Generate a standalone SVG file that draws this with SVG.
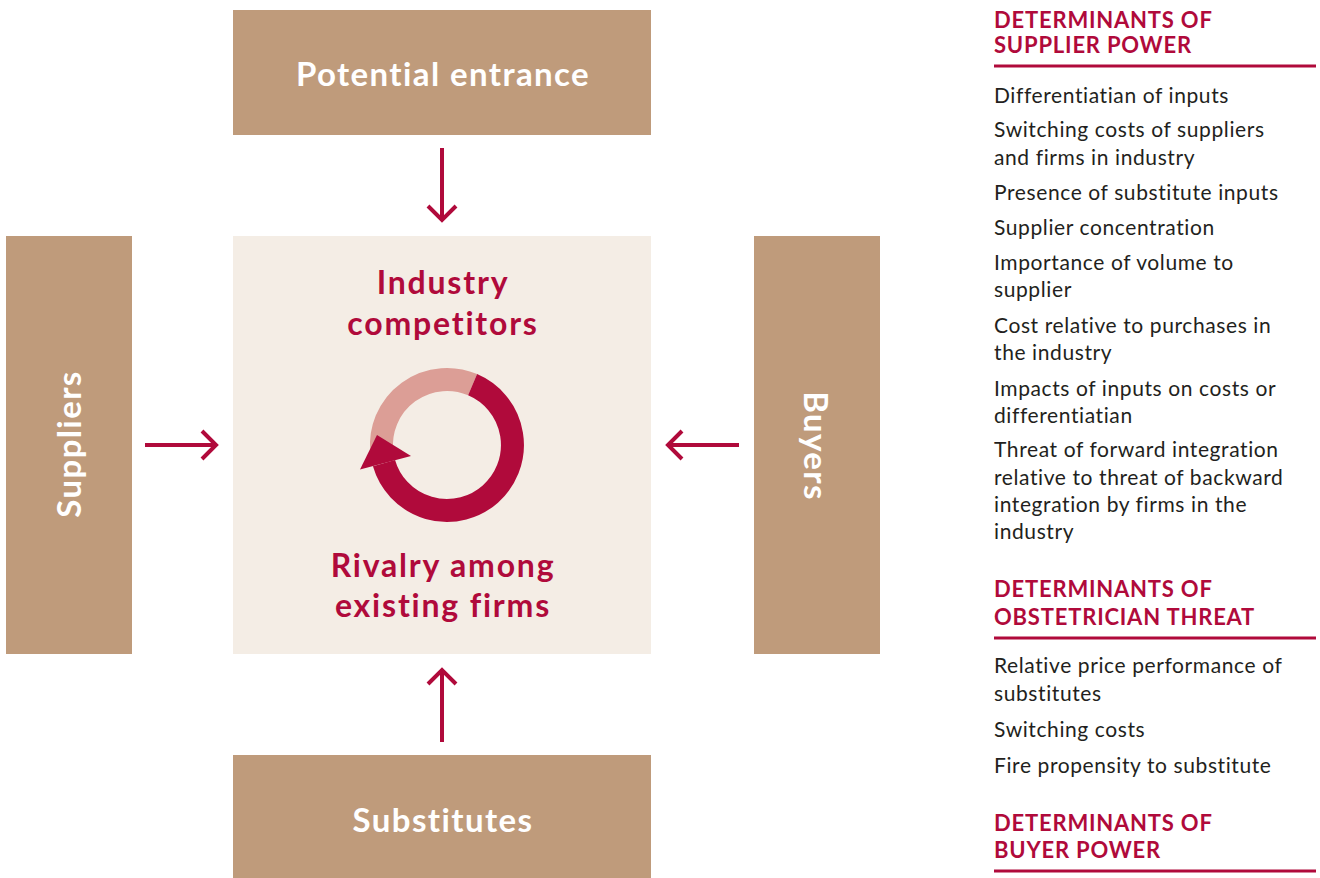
<svg xmlns="http://www.w3.org/2000/svg" width="1320" height="878" viewBox="0 0 1320 878">
<defs>
<style>
.box{fill:#BF9B7B}
.core{fill:#F4EDE5}
.wl{font-family:Lato,"Noto Sans","Liberation Sans",sans-serif;font-weight:700;fill:#FFFFFF;font-size:33px;letter-spacing:1.4px;text-anchor:middle}
.rl{font-family:Lato,"Noto Sans","Liberation Sans",sans-serif;font-weight:700;fill:#B00A3B;font-size:32px;letter-spacing:1.8px;text-anchor:middle}
.conn{stroke:#B00A3B;stroke-width:4;fill:none}
.hd{font-family:Lato,"Noto Sans","Liberation Sans",sans-serif;font-weight:700;fill:#B00A3B;font-size:22px;letter-spacing:0.8px}
.tx{font-family:Lato,"Noto Sans","Liberation Sans",sans-serif;font-weight:400;fill:#231F20;font-size:21px;letter-spacing:0.6px}
.rule{stroke:#B00A3B;stroke-width:3}
</style>
<marker id="chev" markerUnits="userSpaceOnUse" viewBox="-16 -16 32 32" markerWidth="32" markerHeight="32" refX="0" refY="0" orient="auto">
<path d="M-14,-14 L0,0 L-14,14" fill="none" stroke="#B00A3B" stroke-width="4"/>
</marker>
</defs>
<rect width="1320" height="878" fill="#FFFFFF"/>

<g id="potential-entrance">
<rect class="box" x="233" y="10" width="418" height="125"/>
<text class="wl" x="443" y="86">Potential entrance</text>
</g>

<g id="industry-competitors">
<rect class="core" x="233" y="236" width="418" height="418"/>
<text class="rl" x="443" y="294">Industry</text>
<text class="rl" x="443" y="335">competitors</text>
<path d="M381.7,450.7 A65.5,65.5 0 0 1 472.6,384.7" fill="none" stroke="#DC9E96" stroke-width="23"/>
<path d="M472.6,384.7 A65.5,65.5 0 1 1 384.0,463.1" fill="none" stroke="#B00A3B" stroke-width="23"/>
<polygon points="377,435 411,456 360,469.5" fill="#B00A3B"/>
<text class="rl" x="443" y="577">Rivalry among</text>
<text class="rl" x="443" y="617">existing firms</text>
</g>

<g id="suppliers">
<rect class="box" x="6" y="236" width="126" height="418"/>
<text class="wl" transform="translate(81,445) rotate(-90)" x="1" y="0">Suppliers</text>
</g>

<g id="buyers">
<rect class="box" x="754" y="236" width="126" height="418"/>
<text class="wl" transform="translate(804,445) rotate(90)" x="1" y="0">Buyers</text>
</g>

<g id="substitutes">
<rect class="box" x="233" y="755" width="418" height="123"/>
<text class="wl" x="443" y="832">Substitutes</text>
</g>

<g id="connectors">
<line class="conn" x1="442" y1="148" x2="442" y2="220" marker-end="url(#chev)"/>
<line class="conn" x1="442" y1="742" x2="442" y2="670" marker-end="url(#chev)"/>
<line class="conn" x1="145" y1="445" x2="216" y2="445" marker-end="url(#chev)"/>
<line class="conn" x1="739" y1="445" x2="668" y2="445" marker-end="url(#chev)"/>
</g>

<g id="determinants">
<text class="hd" x="994" y="28">DETERMINANTS OF</text>
<text class="hd" x="994" y="53">SUPPLIER POWER</text>
<line class="rule" x1="994" y1="66" x2="1316" y2="66"/>
<text class="tx" x="994" y="103">Differentiatian of inputs</text>
<text class="tx" x="994" y="137">Switching costs of suppliers</text>
<text class="tx" x="994" y="165">and firms in industry</text>
<text class="tx" x="994" y="200">Presence of substitute inputs</text>
<text class="tx" x="994" y="235">Supplier concentration</text>
<text class="tx" x="994" y="270">Importance of volume to</text>
<text class="tx" x="994" y="297">supplier</text>
<text class="tx" x="994" y="333">Cost relative to purchases in</text>
<text class="tx" x="994" y="360">the industry</text>
<text class="tx" x="994" y="396">Impacts of inputs on costs or</text>
<text class="tx" x="994" y="423">differentiatian</text>
<text class="tx" x="994" y="457">Threat of forward integration</text>
<text class="tx" x="994" y="485">relative to threat of backward</text>
<text class="tx" x="994" y="512">integration by firms in the</text>
<text class="tx" x="994" y="539">industry</text>
<text class="hd" x="994" y="597">DETERMINANTS OF</text>
<text class="hd" x="994" y="625">OBSTETRICIAN THREAT</text>
<line class="rule" x1="994" y1="638" x2="1316" y2="638"/>
<text class="tx" x="994" y="673">Relative price performance of</text>
<text class="tx" x="994" y="701">substitutes</text>
<text class="tx" x="994" y="737">Switching costs</text>
<text class="tx" x="994" y="773">Fire propensity to substitute</text>
<text class="hd" x="994" y="831">DETERMINANTS OF</text>
<text class="hd" x="994" y="858">BUYER POWER</text>
<line class="rule" x1="994" y1="871" x2="1316" y2="871"/>
</g>
</svg>
